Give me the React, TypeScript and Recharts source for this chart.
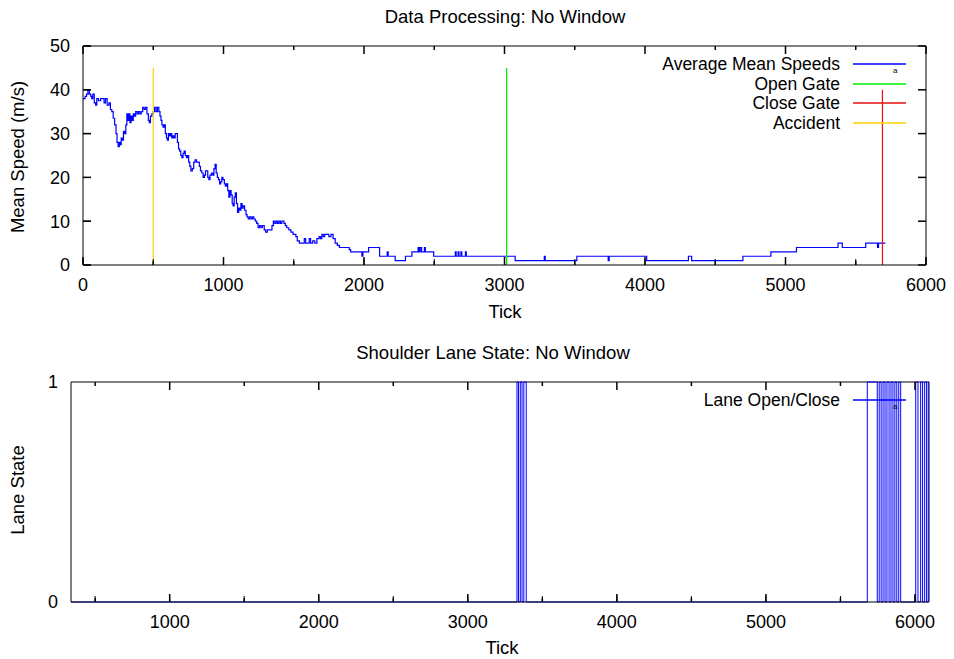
import React from "react";
import { LineChart, Line, XAxis, YAxis, ReferenceLine, Legend } from "recharts";

const FONT = '"Liberation Sans", Arial, Helvetica, sans-serif';

// ── top panel: mean speed over ticks ─────────────────────────────────────────
const speedTicks = [
  0, 15, 25, 35, 45, 55, 62, 70, 80, 90, 98, 110, 125, 140, 150, 160, 172, 185, 195, 205,
  215, 225, 235, 242, 250, 258, 266, 272, 280, 288, 296, 305, 312, 318, 326, 334, 342, 350, 358, 366,
  375, 385, 395, 405, 415, 425, 435, 445, 455, 465, 472, 480, 490, 500, 510, 520, 530, 540, 548, 555,
  562, 570, 578, 586, 594, 600, 608, 616, 624, 632, 640, 648, 656, 664, 672, 680, 688, 696, 704, 712,
  720, 728, 736, 744, 752, 760, 768, 778, 788, 798, 808, 818, 828, 836, 846, 855, 864, 872, 880, 888,
  896, 904, 914, 924, 932, 940, 948, 956, 964, 972, 980, 988, 996, 1006, 1014, 1022, 1030, 1038, 1046, 1054,
  1062, 1068, 1076, 1084, 1092, 1100, 1108, 1116, 1124, 1132, 1140, 1150, 1160, 1168, 1176, 1186, 1196, 1206, 1216, 1226,
  1236, 1246, 1256, 1266, 1276, 1290, 1300, 1312, 1330, 1345, 1355, 1365, 1375, 1385, 1395, 1405, 1415, 1430, 1440, 1450,
  1465, 1480, 1495, 1505, 1515, 1525, 1540, 1560, 1575, 1585, 1600, 1610, 1620, 1635, 1650, 1665, 1680, 1690, 1700, 1710,
  1720, 1735, 1750, 1765, 1780, 1795, 1810, 1825, 1880, 1895, 1905, 1975, 1985, 1992, 2033, 2111, 2165, 2172, 2222, 2295,
  2341, 2385, 2392, 2400, 2410, 2430, 2437, 2496, 2650, 2656, 2670, 2676, 2690, 2696, 2722, 2728, 3076, 3283, 3290, 3515,
  3738, 3745, 4012, 4309, 4332, 4697, 4896, 5078, 5374, 5404, 5571, 5655, 5662, 5711,
];
const speedValues = [
  38, 38.5, 39, 40, 39, 38.5, 38, 39, 37, 36.5, 38, 37.5, 38, 38, 37, 38, 36.5, 37, 35.5, 35,
  33.5, 32, 30, 28, 27, 28, 27.5, 29, 28.5, 30.5, 30, 32, 34.5, 33, 34.5, 32.5, 34, 33, 34.5, 34,
  35, 34.5, 35, 34.5, 35, 36, 35.5, 36, 34.5, 33, 32.5, 34, 34.5, 35, 36, 35, 36, 35, 34, 33,
  32, 31.5, 32, 30, 29, 28.5, 30, 29.5, 30, 29, 29.5, 29, 30, 30, 28, 26.5, 26, 25, 24.5, 25.5,
  26, 25, 24.5, 25, 23.5, 22.5, 21.5, 22, 23.5, 24, 23.5, 23.5, 22.5, 21.5, 21, 20, 20.5, 21.5, 21.5, 20,
  19.5, 20.5, 21, 20.5, 22, 23, 21, 20, 19.5, 18.5, 19, 20, 19.5, 18.5, 18, 18.5, 17, 15.5, 17, 16,
  14, 13.5, 15.5, 16.5, 14, 12, 13, 12.5, 14, 13, 13.5, 12.5, 11.5, 11, 10.5, 11, 10.5, 11, 10.5, 10,
  9.5, 8.5, 9, 8.5, 9, 8, 7.5, 8, 8, 9, 10, 9.5, 10, 9.5, 10, 9.5, 10, 9.5, 9, 8.5,
  8, 7.5, 7, 7, 6.5, 5.5, 5, 5, 6, 5, 5, 6, 5, 5.5, 5, 6, 6.5, 6, 7, 6.5,
  7, 7, 6.5, 7, 6, 5, 4.5, 4, 4, 3.5, 3, 3, 2, 3, 4, 2, 3, 2, 1, 2,
  3, 4, 3, 4, 3, 4, 3, 2, 3, 2, 3, 2, 3, 2, 3, 2, 1, 2, 1, 2,
  1, 2, 1, 2, 1, 2, 3, 4, 5, 4, 5, 4, 5, 5,
];

const accidentTick = 500;
const openGateTick = 3015;
const closeGateTick = 5690;
const eventHeights = { accident: 45, open: 45, close: 40 };

const topXTicks = [0, 500, 1000, 1500, 2000, 2500, 3000, 3500, 4000, 4500, 5000, 5500, 6000];
const topYTicks = [0, 10, 20, 30, 40, 50];

// ── bottom panel: shoulder lane state ────────────────────────────────────────
const laneTicks = [
  338, 3330, 3340, 3352, 3364, 3376, 3392, 5680, 5747, 5760, 5773, 5786, 5799, 5812, 5826, 5839,
  5852, 5865, 5878, 5891, 5904, 6005, 6020, 6038, 6051, 6065, 6078, 6089, 6094,
];
const laneStates = [
  0, 1, 0, 1, 0, 1, 0, 1, 0, 1, 0, 1, 0, 1, 0, 1,
  0, 1, 0, 1, 0, 1, 0, 1, 0, 1, 0, 1, 1,
];
const bottomXTicks = [500, 1000, 1500, 2000, 2500, 3000, 3500, 4000, 4500, 5000, 5500, 6000];
const bottomYTicks = [0, 1];

// legend order and colours (gnuplot key order)
const legendOrder = ["Average Mean Speeds", "Open Gate", "Close Gate", "Accident", "Lane Open/Close"];
const COLORS: Record<string, string> = {
  "Average Mean Speeds": "#0000ff",
  "Open Gate": "#00ee00",
  "Close Gate": "#e81010",
  Accident: "#ffd000",
  "Lane Open/Close": "#0000ff",
};

const speedData = speedTicks.map((x, i) => ({ x, y: speedValues[i] }));
const laneData = laneTicks.map((x, i) => ({ x, y: laneStates[i] }));
const accidentData = [{ x: accidentTick, y: 0 }, { x: accidentTick, y: eventHeights.accident }];
const openData = [{ x: openGateTick, y: 0 }, { x: openGateTick, y: eventHeights.open }];
const closeData = [{ x: closeGateTick, y: 0 }, { x: closeGateTick, y: eventHeights.close }];

// inward tick lengths (major 8px, minor 4px) expressed in each panel's data units
const topDomX = [0, 6000];
const topDomY = [0, 50];
const topTickY = (8 * 50) / 219;
const topTickX = (8 * 6000) / 843;
const botDomX = [338, 6094];
const botDomY = [0, 1];
const botTickY = 8 / 220;

type Seg = { id: string; pts: { x: number; y: number }[] };

// gnuplot draws tick marks inside the frame, mirrored on the far border
function xTickSegs(ticks: number[], domY: number[], len: number): Seg[] {
  const out: Seg[] = [];
  ticks.forEach((t) => {
    const l = t % 1000 === 0 ? len : len / 2;
    out.push({ id: "b" + t, pts: [{ x: t, y: domY[0] }, { x: t, y: domY[0] + l }] });
    out.push({ id: "t" + t, pts: [{ x: t, y: domY[1] }, { x: t, y: domY[1] - l }] });
  });
  return out;
}

function yTickSegs(ticks: number[], domX: number[], len: number): Seg[] {
  const out: Seg[] = [];
  ticks.forEach((t) => {
    out.push({ id: "l" + t, pts: [{ x: domX[0], y: t }, { x: domX[0] + len, y: t }] });
    out.push({ id: "r" + t, pts: [{ x: domX[1], y: t }, { x: domX[1] - len, y: t }] });
  });
  return out;
}

const topMarks = [...xTickSegs(topXTicks, topDomY, topTickY), ...yTickSegs(topYTicks, topDomX, topTickX)];
const botMarks = xTickSegs(bottomXTicks, botDomY, botTickY);

// tick labels only
function makeXLabel(plotBottom: number) {
  return (props: any) => {
    const { x, payload } = props;
    const v = payload.value;
    if (v % 1000 !== 0) return <g />;
    return (
      <text x={x} y={plotBottom + 26} textAnchor="middle" fontFamily={FONT} fontSize={18} fill="#000">
        {v}
      </text>
    );
  };
}

function makeYLabel(plotLeft: number) {
  return (props: any) => {
    const { y, payload } = props;
    return (
      <text x={plotLeft - 13} y={y} dy="0.35em" textAnchor="end" fontFamily={FONT} fontSize={18} fill="#000">
        {payload.value}
      </text>
    );
  };
}

const ROW = 19.6;

const renderLegend = (props: any) => {
  const items = [...(props.payload || [])]
    .filter((e: any) => legendOrder.includes(e.value))
    .sort((a: any, b: any) => legendOrder.indexOf(a.value) - legendOrder.indexOf(b.value));
  return (
    <div style={{ position: "relative", fontFamily: FONT, fontSize: 17.5, color: "#000", height: items.length * ROW }}>
      {items.map((entry: any, i: number) => (
        <div key={entry.value} style={{ position: "absolute", left: 0, top: Math.round(i * ROW), height: 20, width: 310 }}>
          <span
            style={{
              position: "absolute",
              left: 0,
              top: 0,
              width: 240,
              textAlign: "right",
              lineHeight: "20px",
              whiteSpace: "nowrap",
            }}
          >
            {entry.value}
          </span>
          <svg width={53} height={20} style={{ position: "absolute", left: 253, top: 0 }}>
            <line x1={0} x2={53} y1={10} y2={10} stroke={COLORS[entry.value] || entry.color} strokeWidth={1.5} />
          </svg>
          {i === 0 && (
            <span style={{ position: "absolute", left: 293, top: 12, fontSize: 8, lineHeight: "9px" }}>a</span>
          )}
        </div>
      ))}
    </div>
  );
};

function Txt({ x, y, children, rotate }: { x: number; y: number; children: React.ReactNode; rotate?: boolean }) {
  return (
    <div
      style={{
        position: "absolute",
        left: x,
        top: y,
        transform: `translate(-50%, -50%)${rotate ? " rotate(-90deg)" : ""}`,
        fontFamily: FONT,
        fontSize: 18.5,
        whiteSpace: "nowrap",
        lineHeight: "20px",
        color: "#000",
      }}
    >
      {children}
    </div>
  );
}

function renderMarks(segs: Seg[]) {
  return segs.map((s) => (
    <Line
      key={s.id}
      data={s.pts}
      dataKey="y"
      name={"tick " + s.id}
      stroke="#000"
      strokeWidth={1.5}
      dot={false}
      activeDot={false}
      legendType="none"
      isAnimationActive={false}
    />
  ));
}

export default function App() {
  return (
    <div style={{ position: "absolute", left: 0, top: 0, width: 954, height: 659, background: "#fff" }}>
      <div style={{ position: "absolute", left: 0, top: 0 }}>
        <LineChart width={954} height={330} margin={{ top: 46, right: 28, bottom: 35, left: 53 }}>
          <XAxis
            dataKey="x"
            type="number"
            domain={topDomX}
            ticks={topXTicks}
            interval={0}
            height={30}
            tickSize={-6}
            tickMargin={6}
            tickLine={{ stroke: "#000" }}
            axisLine={{ stroke: "#000" }}
            tick={makeXLabel(265)}
          />
          <YAxis
            type="number"
            domain={topDomY}
            ticks={topYTicks}
            interval={0}
            width={30}
            tickSize={-8}
            tickMargin={8}
            tickLine={{ stroke: "#000" }}
            axisLine={{ stroke: "#000" }}
            tick={makeYLabel(83)}
          />
          <ReferenceLine y={topDomY[1]} stroke="#000" strokeWidth={1} />
          <ReferenceLine x={topDomX[1]} stroke="#000" strokeWidth={1} />
          <Legend
            layout="vertical"
            align="center"
            verticalAlign="middle"
            content={renderLegend}
            wrapperStyle={{ left: 600, top: 54, width: 330 }}
          />
          <Line
            data={speedData}
            dataKey="y"
            name="Average Mean Speeds"
            type="stepAfter"
            stroke={COLORS["Average Mean Speeds"]}
            strokeWidth={1.2}
            dot={false}
            isAnimationActive={false}
          />
          <Line data={openData} dataKey="y" name="Open Gate" stroke={COLORS["Open Gate"]} strokeWidth={1.2} dot={false} isAnimationActive={false} />
          <Line data={closeData} dataKey="y" name="Close Gate" stroke={COLORS["Close Gate"]} strokeWidth={1.2} dot={false} isAnimationActive={false} />
          <Line data={accidentData} dataKey="y" name="Accident" stroke={COLORS.Accident} strokeWidth={1.2} dot={false} isAnimationActive={false} />
          {renderMarks(topMarks)}
        </LineChart>
      </div>

      <div style={{ position: "absolute", left: 0, top: 330 }}>
        <LineChart width={954} height={329} margin={{ top: 52, right: 25, bottom: 27, left: 41 }}>
          <XAxis
            dataKey="x"
            type="number"
            domain={botDomX}
            ticks={bottomXTicks}
            interval={0}
            height={30}
            tickSize={-6}
            tickMargin={6}
            tickLine={{ stroke: "#000" }}
            axisLine={{ stroke: "#000" }}
            tick={makeXLabel(272)}
          />
          <YAxis
            type="number"
            domain={botDomY}
            ticks={bottomYTicks}
            interval={0}
            width={30}
            tickSize={0}
            tickMargin={0}
            tickLine={false}
            axisLine={{ stroke: "#000" }}
            tick={makeYLabel(71)}
          />
          <ReferenceLine y={botDomY[1]} stroke="#000" strokeWidth={1} />
          <ReferenceLine x={botDomX[1]} stroke="#000" strokeWidth={1} />
          <Legend
            layout="vertical"
            align="center"
            verticalAlign="middle"
            content={renderLegend}
            wrapperStyle={{ left: 600, top: 60, width: 330 }}
          />
          <Line
            data={laneData}
            dataKey="y"
            name="Lane Open/Close"
            type="stepAfter"
            stroke={COLORS["Lane Open/Close"]}
            strokeWidth={1}
            dot={false}
            isAnimationActive={false}
          />
          {renderMarks(botMarks)}
        </LineChart>
      </div>

      <Txt x={505} y={17}>Data Processing: No Window</Txt>
      <Txt x={18} y={157} rotate>Mean Speed (m/s)</Txt>
      <Txt x={505} y={312}>Tick</Txt>
      <Txt x={493} y={353}>Shoulder Lane State: No Window</Txt>
      <Txt x={18} y={490} rotate>Lane State</Txt>
      <Txt x={502} y={648}>Tick</Txt>
    </div>
  );
}
